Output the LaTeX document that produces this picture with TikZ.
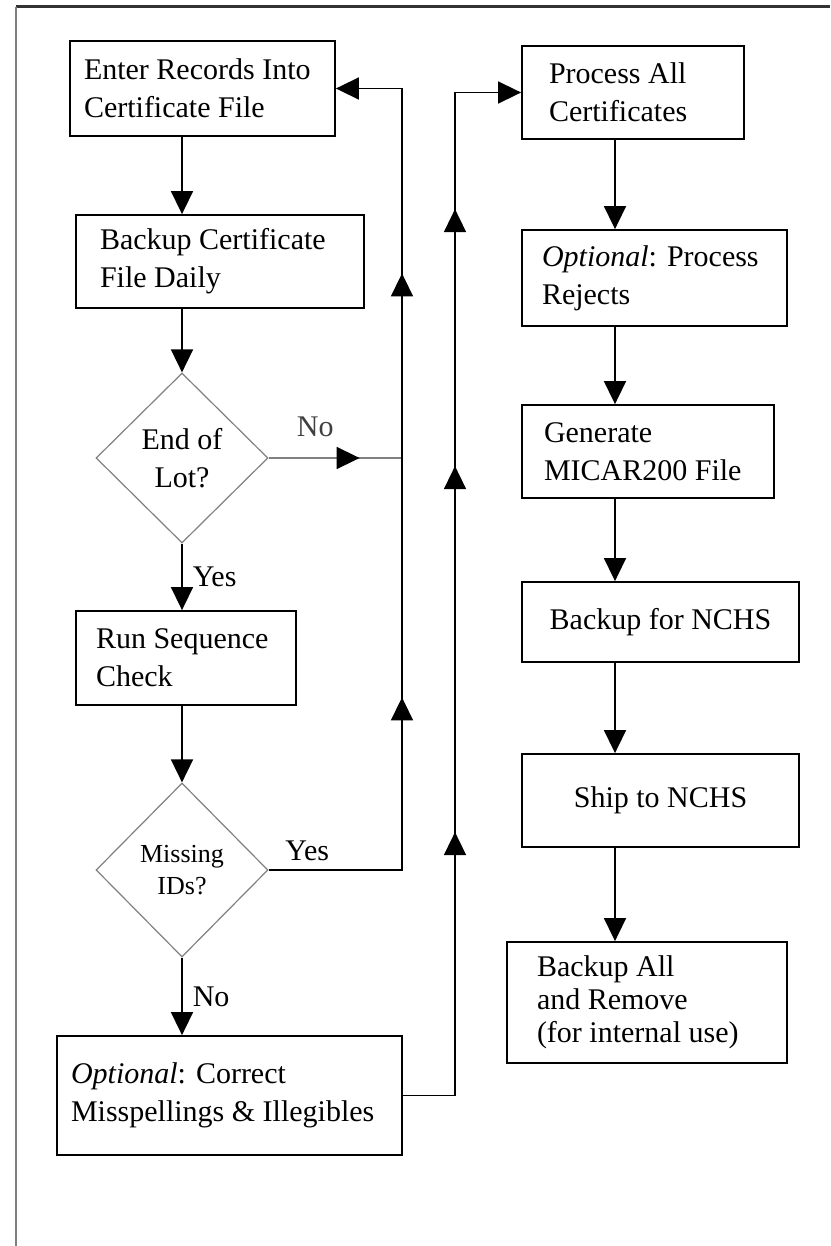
\documentclass[tikz,border=0pt]{standalone}
\usepackage{fontspec}
\setmainfont{Liberation Serif}
\usepackage{tikz}
\usetikzlibrary{arrows.meta,calc,decorations.markings,positioning,shapes.geometric}
\tikzset{%
	tri/.tip       = {Triangle[width=11pt,length=11.5pt]},
	proc/.style    = {draw, rectangle, line width=0.9pt, align=flush left, inner ysep=0pt, font=\fontsize{15}{19}\selectfont},
	decide/.style  = {draw=gray, diamond, line width=0.6pt, inner sep=0pt, align=center, minimum width=86pt, minimum height=86pt, font=\fontsize{15}{19}\selectfont},
	conn/.style    = {line width=0.8pt},
	arrow/.style   = {conn, -tri},
	lbl/.style     = {font=\fontsize{15}{19}\selectfont, inner sep=3pt},
}
\begin{document}
\begin{tikzpicture}[x=0.5pt, y=-0.5pt]
	\useasboundingbox (0,0) rectangle (830,1246);
	% frame
	\draw[line width=1.5pt, black!80] (16,7) -- (830,7);
	\draw[line width=0.8pt, gray] (16,7) -- (16,1246);
	
	% left column
	\node[proc, minimum height=47.5pt, text width=118.5pt, inner xsep=7pt] (enter) at (202.5,88.5) {Enter Records Into\\Certificate File};
	\node[proc, minimum height=46.5pt, text width=120pt, inner xsep=12pt] (backup) at (220,261.5) {Backup Certificate\\File Daily};
	\node[decide, minimum height=85pt] (endlot) at (182,458) {End of\\Lot?};
	\node[proc, minimum height=47pt, text width=90pt, inner xsep=10pt] (seqchk) at (186,658) {Run Sequence\\Check};
	\node[decide, minimum height=87pt, font=\fontsize{13}{16}\selectfont] (missing) at (182,870) {Missing\\IDs?};
	\node[proc, minimum height=59.5pt, text width=158.5pt, inner xsep=7pt] (correct) at (229.5,1095.5) {\textit{Optional}: Correct\\Misspellings \& Illegibles};
	
	% right column
	\node[proc, minimum height=46.5pt, text width=84pt, inner xsep=13.5pt] (procall) at (633,92.5) {Process All\\Certificates};
	\node[proc, minimum height=48pt, text width=112.5pt, inner xsep=10pt] (rejects) at (654.5,278) {\textit{Optional}: Process\\Rejects};
	\node[proc, minimum height=46.5pt, text width=104pt, inner xsep=11pt] (micar) at (648,451.5) {Generate\\MICAR200 File};
	\node[proc, minimum height=40pt, minimum width=138.5pt] (nchsbk) at (660.5,622) {Backup for NCHS};
	\node[proc, minimum height=46.5pt, minimum width=138.5pt] (ship) at (660.5,800.5) {Ship to NCHS};
	\node[proc, minimum height=60.5pt, text width=110pt, inner xsep=15pt, font=\fontsize{15}{16.5}\selectfont] (remove) at (647,1002.5) {Backup All\\and Remove\\(for internal use)};
	
	\coordinate (loopA) at (402,0);
	\coordinate (loopB) at (455,0);
	\coordinate (rcol) at (615,0);
	
	% main flow
	\draw[arrow] (enter.south -| endlot.north) -- (backup.north -| endlot.north);
	\draw[arrow] (backup.south -| endlot.north) -- (endlot.north);
	\draw[arrow] (endlot.south) -- node[lbl, right, xshift=2pt] {Yes} (seqchk.north -| endlot.south);
	\draw[arrow] (seqchk.south -| missing.north) -- (missing.north);
	\draw[arrow] (missing.south) -- node[lbl, right, xshift=2pt] {No} (correct.north -| missing.south);
	
	\draw[arrow] (procall.south -| rcol) -- (rejects.north -| rcol);
	\draw[arrow] (rejects.south -| rcol) -- (micar.north -| rcol);
	\draw[arrow] (micar.south -| rcol) -- (nchsbk.north -| rcol);
	\draw[arrow] (nchsbk.south -| rcol) -- (ship.north -| rcol);
	\draw[arrow] (ship.south -| rcol) -- (remove.north -| rcol);
	
	% loops
	\draw[conn, gray, postaction={decorate}, decoration={markings, mark=at position 45.5pt with {\arrow[black]{tri}}}]
		(endlot.east) -- node[lbl, above=7pt, pos=0.35, black!75] {No} (endlot.east -| loopA);
	\draw[arrow, postaction={decorate}, decoration={markings, mark=at position 153pt with {\arrow{tri}}, mark=at position 365pt with {\arrow{tri}}}]
		(missing.east) -- node[lbl, above=1pt, pos=0.29] {Yes} (missing.east -| loopA) -- (enter.east -| loopA) -- (enter.east);
	\draw[arrow, postaction={decorate}, decoration={markings, mark=at position 157.75pt with {\arrow{tri}}, mark=at position 340.75pt with {\arrow{tri}}, mark=at position 469.25pt with {\arrow{tri}}}]
		(correct.east) -- (correct.east -| loopB) -- (procall.west -| loopB) -- (procall.west);
\end{tikzpicture}
\end{document}
